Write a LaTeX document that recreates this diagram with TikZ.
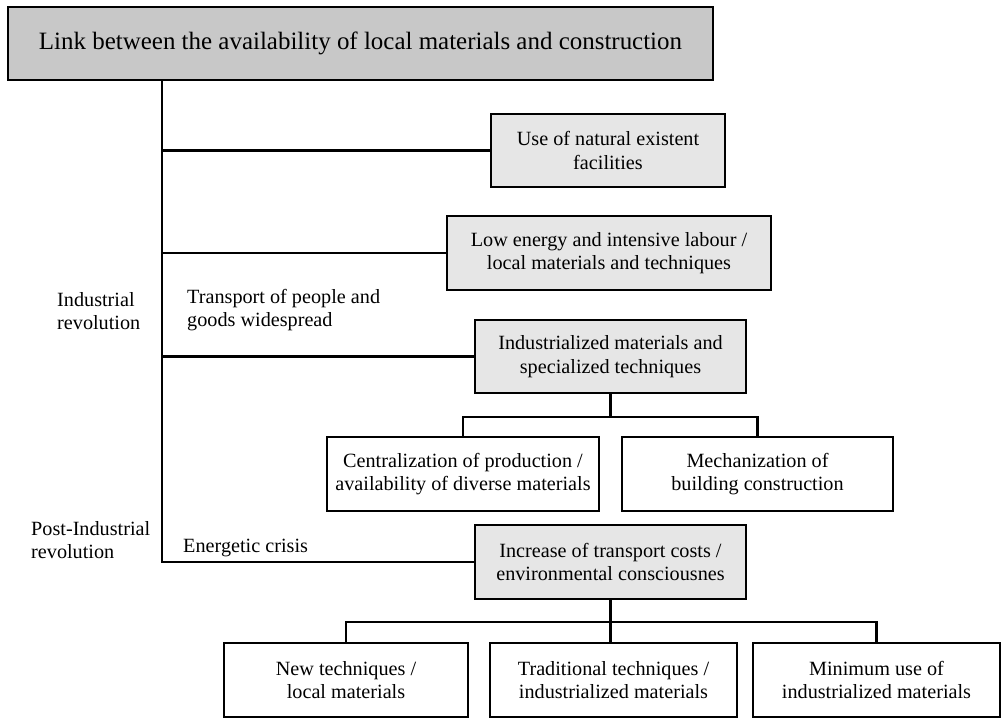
\documentclass[tikz,border=0pt]{standalone}
\usepackage{fontspec}
\setmainfont{Liberation Serif}
\usetikzlibrary{calc}
\definecolor{headgrey}{RGB}{200,200,200}
\definecolor{boxgrey}{RGB}{230,230,230}
\tikzset{
  link/.style={line width=1.3pt},
  greybox/.style={draw, line width=1.3pt, fill=boxgrey, align=center,
    minimum height=1.47cm, font=\fontsize{11.5}{13.3}\selectfont},
  whitebox/.style={greybox, fill=white},
  sidetext/.style={align=left, anchor=west, font=\fontsize{11.5}{13.3}\selectfont}
}

\begin{document}
\begin{tikzpicture}
  \useasboundingbox (0,0) rectangle (20.12,-14.34);
  % heading and main stages
  \node[greybox, fill=headgrey, minimum width=14.1cm, minimum height=1.46cm,
    font=\fontsize{14.2}{16}\selectfont] (title) at (7.21,-0.87)
    {Link between the availability of local materials and construction};
  \node[greybox, minimum width=4.68cm] (natural) at (12.16,-3.01)
    {Use of natural existent\\facilities};
  \node[greybox, minimum width=6.48cm] (lowenergy) at (12.18,-5.06)
    {Low energy and intensive labour /\\local materials and techniques};
  \node[greybox, minimum width=5.42cm] (industrial) at (12.21,-7.13)
    {Industrialized materials and\\specialized techniques};
  \node[whitebox, minimum width=5.44cm] (central) at (9.26,-9.48)
    {Centralization of production /\\availability of diverse materials};
  \node[whitebox, minimum width=5.42cm] (mechan) at (15.15,-9.48)
    {Mechanization of\\building construction};
  \node[greybox, minimum width=5.42cm] (transport) at (12.21,-11.24)
    {Increase of transport costs /\\environmental consciousnes};
  \node[whitebox, minimum width=4.88cm] (newtech) at (6.92,-13.6)
    {New techniques /\\local materials};
  \node[whitebox, minimum width=4.94cm] (tradtech) at (12.27,-13.6)
    {Traditional techniques /\\industrialized materials};
  \node[whitebox, minimum width=4.94cm] (minuse) at (17.53,-13.6)
    {Minimum use of\\industrialized materials};

  % period labels
  \node[sidetext] (indrev) at (1.02,-6.22) {Industrial\\revolution};
  \node[sidetext] (widespread) at (3.62,-6.2) {Transport of people and\\goods widespread};
  \node[sidetext] (postrev) at (0.5,-10.8) {Post-Industrial\\revolution};
  \node[sidetext] (crisis) at (3.54,-10.95) {Energetic crisis};

  % connectors
  \coordinate (trunk) at (3.24,0);
  \coordinate (splitA) at (0,-8.34);
  \coordinate (splitB) at (0,-12.44);
  \draw[link] (trunk |- title.south) -- (trunk |- transport.west) -- (transport.west);
  \draw[link] (trunk |- natural.west) -- (natural.west);
  \draw[link] (trunk |- lowenergy.west) -- (lowenergy.west);
  \draw[link] (trunk |- industrial.west) -- (industrial.west);
  \draw[link] (industrial.south) -- (industrial.south |- splitA);
  \draw[link] (central.north) |- (splitA -| mechan.north) -- (mechan.north);
  \draw[link] (transport.south) -- (transport.south |- tradtech.north);
  \draw[link] (newtech.north) |- (splitB -| minuse.north) -- (minuse.north);
\end{tikzpicture}
\end{document}
